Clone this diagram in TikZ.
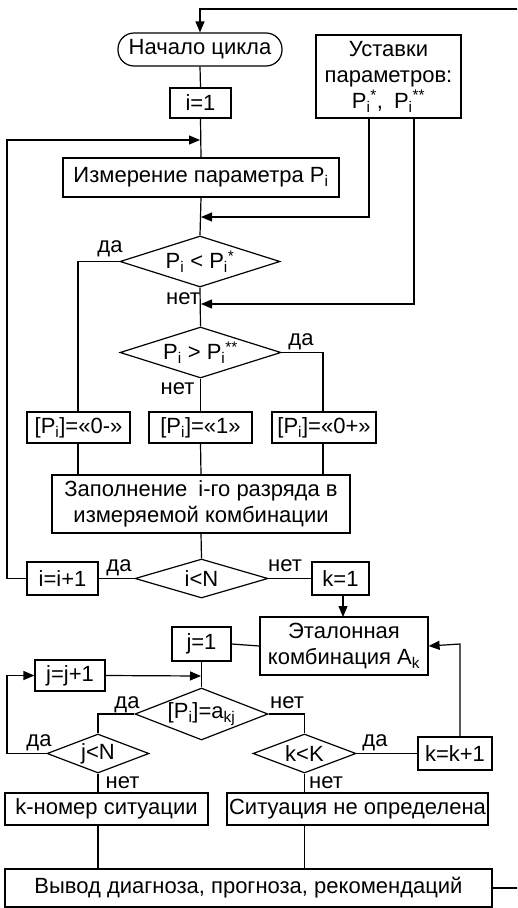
\documentclass[tikz,border=0pt]{standalone}
\usepackage{fontspec}
\setmainfont{Liberation Sans}
\usetikzlibrary{arrows.meta,shapes.geometric}
\newcommand{\sub}[1]{\textsubscript{#1}}
\newcommand{\sups}[1]{\textsuperscript{#1}}
\begin{document}
\begin{tikzpicture}[x=1pt,y=-1pt,
  every node/.style={font=\fontsize{22}{26}\selectfont},
  line/.style={line width=1.2pt},
  arr/.style={line width=1.2pt,-{Triangle[length=11pt,width=9pt]}},
  blk/.style={draw,line width=1.2pt,rectangle,inner sep=0pt,minimum width=#1},
  dia/.style={draw,line width=1.2pt,diamond,inner sep=0pt,aspect=1},
  lbl/.style={anchor=base,inner sep=0pt}]
\useasboundingbox (0,0) rectangle (517,908);
\clip (0,0) rectangle (517,908);
% nodes
\node[blk=164,minimum height=33,rounded corners=16pt] (start) at (200,49.5) {Начало цикла};
\node[blk=145,minimum height=83,align=center] (ust) at (388.5,76.5) {Уставки\\параметров:\\P\sub{i}\sups{*},\enspace P\sub{i}\sups{**}};
\node[blk=61,minimum height=30] (i1) at (200.5,103) {i=1};
\node[blk=276,minimum height=39] (meas) at (201,177.5) {Измерение параметра P\sub{i}};
\node[dia,minimum width=160,minimum height=51] (d1) at (200,261.5) {\makebox[0pt]{P\sub{i} < P\sub{i}\sups{*}}};
\node[dia,minimum width=161,minimum height=51] (d2) at (200.5,352.5) {\makebox[0pt]{P\sub{i} > P\sub{i}\sups{**}}};
\node[blk=103,minimum height=31] (b0m) at (78.5,427.5) {[P\sub{i}]=«0-»};
\node[blk=103,minimum height=31] (b1) at (200.5,427.5) {[P\sub{i}]=«1»};
\node[blk=104,minimum height=31] (b0p) at (324,427.5) {[P\sub{i}]=«0+»};
\node[blk=298,minimum height=58,align=center] (fill) at (201,504) {Заполнение\enspace i-го разряда в\\измеряемой комбинации};
\node[dia,minimum width=133,minimum height=39] (dN) at (201.5,578.5) {\makebox[0pt]{i<N}};
\node[blk=71,minimum height=33] (ii) at (62.5,578.5) {i=i+1};
\node[blk=57,minimum height=33] (k1) at (340.5,578.5) {k=1};
\node[blk=168,minimum height=58,align=center] (etal) at (344,646) {Эталонная\\комбинация A\sub{k}};
\node[blk=59,minimum height=34] (j1) at (201.5,644) {j=1};
\node[blk=70,minimum height=31] (jj) at (70,675.5) {j=j+1};
\node[dia,minimum width=133,minimum height=52] (dA) at (201.5,714) {\makebox[0pt]{[P\sub{i}]=a\sub{kj}}};
\node[dia,minimum width=102,minimum height=39] (djN) at (98,753.5) {\makebox[0pt]{j<N}};
\node[dia,minimum width=103,minimum height=39] (dkK) at (304.5,753.5) {\makebox[0pt]{k<K}};
\node[blk=74,minimum height=33] (kk) at (455,753.5) {k=k+1};
\node[blk=203,minimum height=32] (sitk) at (106.5,809) {k-номер ситуации};
\node[blk=261,minimum height=32] (sitn) at (357.5,809) {Ситуация не определена};
\node[blk=487,minimum height=38] (out) at (248.5,888) {Вывод диагноза, прогноза, рекомендаций};
% coordinates
\coordinate (rb) at (530,888);
\coordinate (rt) at (530,9);
\coordinate (lt) at (200,9);
% labels
\node[lbl] (l1) at (110,252) {да};
\node[lbl] (l2) at (183,304) {нет};
\node[lbl] (l3) at (301,345.5) {да};
\node[lbl] (l4) at (177.5,394) {нет};
\node[lbl] (l5) at (119,571.5) {да};
\node[lbl] (l6) at (285,571.5) {нет};
\node[lbl] (l7) at (127,708) {да};
\node[lbl] (l8) at (287,708) {нет};
\node[lbl] (l9) at (39,746.5) {да};
\node[lbl] (l10) at (375,746.5) {да};
\node[lbl] (l11) at (122.5,788) {нет};
\node[lbl] (l12) at (326,788) {нет};
% connectors
\draw[arr] (out.east) -- (rb) -- (rt) -- (lt) -- (start.north);
\draw[line] (start.south) -- (i1.north);
\draw[line] (i1.south) -- (meas.north);
\draw[arr] (ii.west) -- (7,578.5) -- (7,140) -- (200,140);
\draw[line] (meas.south) -- (d1.north);
\draw[arr] (369,118) -- (369,217) -- (201,217);
\draw[line] (d1.south) -- (d2.north);
\draw[arr] (414,118) -- (414,304) -- (201,304);
\draw[line] (d1.west) -- (78,261.5) -- (78,412);
\draw[line] (d2.east) -- (323,352.5) -- (323,412);
\draw[line] (d2.south) -- (b1.north);
\draw[line] (78,443) -- (78,475);
\draw[line] (b1.south) -- (fill.north);
\draw[line] (323,443) -- (323,475);
\draw[line] (fill.south) -- (dN.north);
\draw[line] (dN.west) -- (ii.east);
\draw[line] (dN.east) -- (k1.west);
\draw[arr] (343,595) -- (343,617);
\draw[line] (etal.west) -- (j1.east);
\draw[line] (j1.south) -- (dA.north);
\draw[arr] (jj.east) -- (201,676);
\draw[arr] (djN.west) -- (7,753.5) -- (7,675.5) -- (jj.west);
\draw[line] (dA.west) -- (98,714) -- (djN.north);
\draw[line] (dA.east) -- (304.5,714) -- (dkK.north);
\draw[line] (dkK.east) -- (kk.west);
\draw[arr] (460,737) -- (460,644) -- (etal.east);
\draw[line] (djN.south) -- (98,793);
\draw[line] (dkK.south) -- (304.5,793);
\draw[line] (98,825) -- (98,869);
\draw[line] (304.5,825) -- (304.5,869);
\end{tikzpicture}
\end{document}
